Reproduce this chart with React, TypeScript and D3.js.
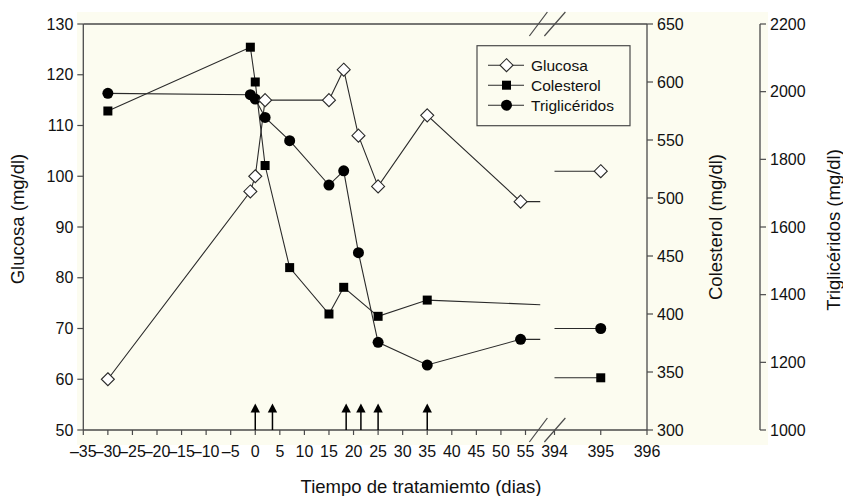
import React from "react";
import * as d3 from "d3";

// ---- data ----
const glucosaDays = [-30, -1, 0, 2, 15, 18, 21, 25, 35, 54];
const glucosaValues = [60, 97, 100, 115, 115, 121, 108, 98, 112, 95];
const colesterolDays = [-30, -1, 0, 2, 7, 15, 18, 25, 35];
const colesterolValues = [575, 630, 600, 528, 440, 400, 423, 398, 412];
const trigDays = [-30, -1, 0, 2, 7, 15, 18, 21, 25, 35, 54];
const trigValues = [1995, 1991, 1978, 1924, 1855, 1724, 1766, 1524, 1259, 1192, 1268];
// values where the early-phase lines reach the axis break
const trailDay = 58;
const glucosaTrail = 95;
const colesterolTrail = 408;
const trigTrail = 1268;
// late measurement
const lateDay = 395;
const lateStartDay = 394;
const glucosaLate = 101;
const colesterolLate = 345;
const trigLate = 1300;
// treatment arrows
const arrowDays = [0, 3.5, 18.5, 21.5, 25, 35];
// ticks
const xTicks1 = [-35, -30, -25, -20, -15, -10, -5, 0, 5, 10, 15, 20, 25, 30, 35, 40, 45, 50, 55];
const xTicks2 = [394, 395, 396];
const glucosaTicks = [50, 60, 70, 80, 90, 100, 110, 120, 130];
const colesterolTicks = [300, 350, 400, 450, 500, 550, 600, 650];
const trigTicks = [1000, 1200, 1400, 1600, 1800, 2000, 2200];
const legendItems = ["Glucosa", "Colesterol", "Triglicéridos"];

const W = 843;
const H = 496;
const FONT = "'Liberation Sans', Arial, Helvetica, sans-serif";
const INK = "#2a2a2a";
const AXIS = "#4a4a4a";

const top = 24;
const bottom = 430;
const left = 83.3;
const right = 647;
const trigAxisX = 760;

const x1 = d3.scaleLinear().domain([-35, 55]).range([left, 525.5]);
const x2 = d3.scaleLinear().domain([394, 396]).range([554.5, right]);
const yG = d3.scaleLinear().domain([50, 130]).range([bottom, top]);
const yC = d3.scaleLinear().domain([300, 650]).range([bottom, top]);
const yT = d3.scaleLinear().domain([1000, 2200]).range([bottom, top]);

const line = d3
  .line<[number, number]>()
  .x((d) => d[0])
  .y((d) => d[1]);

function Diamond({ cx, cy }: { cx: number; cy: number }) {
  const r = 6.5;
  return (
    <path
      d={`M${cx},${cy - r}L${cx + r},${cy}L${cx},${cy + r}L${cx - r},${cy}Z`}
      fill="#ffffff"
      stroke={INK}
      strokeWidth={1.1}
    />
  );
}
function Square({ cx, cy }: { cx: number; cy: number }) {
  const s = 9;
  return <rect x={cx - s / 2} y={cy - s / 2} width={s} height={s} fill="#000" />;
}
function Dot({ cx, cy }: { cx: number; cy: number }) {
  return <circle cx={cx} cy={cy} r={5.5} fill="#000" />;
}

export default function App() {
  const gPts: [number, number][] = glucosaDays.map((d, i) => [x1(d), yG(glucosaValues[i])]);
  const cPts: [number, number][] = colesterolDays.map((d, i) => [x1(d), yC(colesterolValues[i])]);
  const tPts: [number, number][] = trigDays.map((d, i) => [x1(d), yT(trigValues[i])]);

  const gPath = line([...gPts, [x1(trailDay), yG(glucosaTrail)]]);
  const cPath = line([...cPts, [x1(trailDay), yC(colesterolTrail)]]);
  const tPath = line([...tPts, [x1(trailDay), yT(trigTrail)]]);

  const gLate = line([[x2(lateStartDay), yG(glucosaLate)], [x2(lateDay), yG(glucosaLate)]]);
  const cLate = line([[x2(lateStartDay), yC(colesterolLate)], [x2(lateDay), yC(colesterolLate)]]);
  const tLate = line([[x2(lateStartDay), yT(trigLate)], [x2(lateDay), yT(trigLate)]]);

  const breakX = (x1(trailDay) + x2(lateStartDay)) / 2;

  const tickFont = 16;
  const legX = 477;
  const legY = 45.7;

  return (
    <svg width={W} height={H} style={{ position: "absolute", left: 0, top: 0 }} fontFamily={FONT}>
      <rect x={0} y={0} width={W} height={H} fill="#ffffff" />
      <rect x={77} y={12} width={691} height={433} fill="#fcfcf0" />

      {/* frame */}
      <line x1={left} x2={right} y1={top} y2={top} stroke={AXIS} strokeWidth={1.3} />
      <line x1={left} x2={right} y1={bottom} y2={bottom} stroke={AXIS} strokeWidth={1.3} />
      <line x1={left} x2={left} y1={top} y2={bottom} stroke={AXIS} strokeWidth={1.3} />
      <line x1={right} x2={right} y1={top} y2={bottom} stroke={AXIS} strokeWidth={1.3} />
      <line x1={trigAxisX} x2={trigAxisX} y1={top} y2={bottom} stroke={AXIS} strokeWidth={1.3} />

      {/* break marks */}
      {[top, bottom].map((yy, k) => (
        <g key={k}>
          <line x1={breakX - 18} y1={yy + 12} x2={breakX} y2={yy - 12} stroke={AXIS} strokeWidth={1.2} />
          <line x1={breakX - 3} y1={yy + 12} x2={breakX + 18} y2={yy - 12} stroke={AXIS} strokeWidth={1.2} />
        </g>
      ))}

      {/* left axis ticks */}
      {glucosaTicks.map((t) => (
        <g key={t}>
          <line x1={left - 6} x2={left} y1={yG(t)} y2={yG(t)} stroke={AXIS} strokeWidth={1.2} />
          <text x={left - 10} y={yG(t)} dy="0.35em" textAnchor="end" fontSize={tickFont} fill="#111">
            {t}
          </text>
        </g>
      ))}
      {/* colesterol axis ticks */}
      {colesterolTicks.map((t) => (
        <g key={t}>
          <line x1={right} x2={right + 6} y1={yC(t)} y2={yC(t)} stroke={AXIS} strokeWidth={1.2} />
          <text x={right + 10} y={yC(t)} dy="0.35em" textAnchor="start" fontSize={tickFont} fill="#111">
            {t}
          </text>
        </g>
      ))}
      {/* trig axis ticks */}
      {trigTicks.map((t) => (
        <g key={t}>
          <line x1={trigAxisX} x2={trigAxisX + 6} y1={yT(t)} y2={yT(t)} stroke={AXIS} strokeWidth={1.2} />
          <text x={trigAxisX + 10} y={yT(t)} dy="0.35em" textAnchor="start" fontSize={tickFont} fill="#111">
            {t}
          </text>
        </g>
      ))}
      {/* x ticks */}
      {xTicks1.map((t) => (
        <g key={t}>
          <line x1={x1(t)} x2={x1(t)} y1={bottom} y2={bottom + 5} stroke={AXIS} strokeWidth={1.2} />
          <text x={x1(t)} y={bottom + 27} textAnchor="middle" fontSize={tickFont} fill="#111">
            {t < 0 ? `\u2013${-t}` : t}
          </text>
        </g>
      ))}
      {xTicks2.map((t) => (
        <g key={t}>
          <line x1={x2(t)} x2={x2(t)} y1={bottom} y2={bottom + 5} stroke={AXIS} strokeWidth={1.2} />
          <text x={x2(t)} y={bottom + 27} textAnchor="middle" fontSize={tickFont} fill="#111">
            {t}
          </text>
        </g>
      ))}

      {/* arrows */}
      {arrowDays.map((d, i) => {
        const ax = x1(d);
        return (
          <g key={i}>
            <line x1={ax} x2={ax} y1={bottom} y2={411} stroke="#000" strokeWidth={1.5} />
            <path d={`M${ax},403.5L${ax + 4.7},412.5L${ax - 4.7},412.5Z`} fill="#000" />
          </g>
        );
      })}

      {/* lines */}
      <path d={tPath!} fill="none" stroke={INK} strokeWidth={1.1} />
      <path d={cPath!} fill="none" stroke={INK} strokeWidth={1.1} />
      <path d={gPath!} fill="none" stroke={INK} strokeWidth={1.1} />
      <path d={tLate!} fill="none" stroke={INK} strokeWidth={1.1} />
      <path d={cLate!} fill="none" stroke={INK} strokeWidth={1.1} />
      <path d={gLate!} fill="none" stroke={INK} strokeWidth={1.1} />

      {/* markers */}
      {tPts.map((p, i) => (
        <Dot key={"t" + i} cx={p[0]} cy={p[1]} />
      ))}
      {cPts.map((p, i) => (
        <Square key={"c" + i} cx={p[0]} cy={p[1]} />
      ))}
      {gPts.map((p, i) => (
        <Diamond key={"g" + i} cx={p[0]} cy={p[1]} />
      ))}
      <Dot cx={x2(lateDay)} cy={yT(trigLate)} />
      <Square cx={x2(lateDay)} cy={yC(colesterolLate)} />
      <Diamond cx={x2(lateDay)} cy={yG(glucosaLate)} />

      {/* legend */}
      <rect x={legX} y={legY} width={153} height={80} fill="#fcfcf0" stroke={AXIS} strokeWidth={1.2} />
      {legendItems.map((name, i) => {
        const ly = legY + 19.5 + i * 20;
        const mx = 506.5;
        return (
          <g key={name}>
            <line x1={488} x2={524} y1={ly} y2={ly} stroke={INK} strokeWidth={1.1} />
            {i === 0 && <Diamond cx={mx} cy={ly} />}
            {i === 1 && <Square cx={mx} cy={ly} />}
            {i === 2 && <Dot cx={mx} cy={ly} />}
            <text x={531} y={ly} dy="0.36em" fontSize={15.5} fill="#111">
              {name}
            </text>
          </g>
        );
      })}

      {/* axis titles */}
      <text x={421} y={493} textAnchor="middle" fontSize={18.5} fill="#111">
        Tiempo de tratamiemto (dias)
      </text>
      <text transform={`translate(24,${(top + bottom) / 2 - 8}) rotate(-90)`} textAnchor="middle" fontSize={18.5} fill="#111">
        Glucosa (mg/dl)
      </text>
      <text transform={`translate(722,${(top + bottom) / 2}) rotate(-90)`} textAnchor="middle" fontSize={18.5} fill="#111">
        Colesterol (mg/dl)
      </text>
      <text transform={`translate(840,${(top + bottom) / 2 + 3}) rotate(-90)`} textAnchor="middle" fontSize={18.5} fill="#111">
        Triglicéridos (mg/dl)
      </text>
    </svg>
  );
}
